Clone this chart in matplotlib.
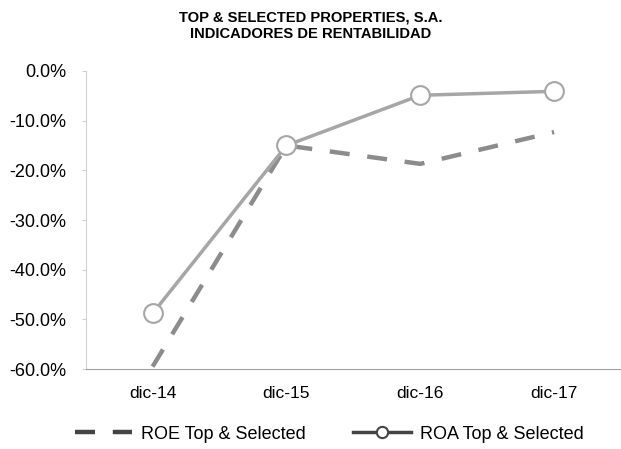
import matplotlib.pyplot as plt
import matplotlib as mpl

mpl.rcParams['font.family'] = ['Liberation Sans', 'DejaVu Sans']

periods = ['dic-14', 'dic-15', 'dic-16', 'dic-17']
roe = [-59.5, -15.0, -18.7, -12.3]
roa = [-48.8, -15.0, -4.9, -4.1]
y_ticks = [0, -10, -20, -30, -40, -50, -60]

fig = plt.figure(figsize=(6.21, 4.49), dpi=100)
ax = fig.add_axes([0.138, 0.178, 0.862, 0.664])

x = range(len(periods))
ax.plot(x, roe, color='#8c8c8c', lw=3.2, dashes=(4.5, 4), label='ROE Top & Selected')
ax.plot(x, roa, color='#a6a6a6', lw=2.5, marker='o', ms=13.5, mfc='white',
        mec='#a6a6a6', mew=1.5, label='ROA Top & Selected')

ax.set_xlim(-0.5, 3.5)
ax.set_ylim(-60, 0)
ax.set_xticks(list(x))
ax.set_xticklabels(periods, fontsize=12.5)
ax.set_yticks(y_ticks)
ax.set_yticklabels(['%.1f%%' % v for v in y_ticks], fontsize=13)
ax.tick_params(axis='x', length=0, pad=12)
ax.tick_params(axis='y', length=3, color='#d0d0d0', pad=11)
ax.spines['top'].set_visible(False)
ax.spines['right'].set_visible(False)
ax.spines['left'].set_color('#d0d0d0')
ax.spines['bottom'].set_color('#a0a0a0')

fig.suptitle('TOP & SELECTED PROPERTIES, S.A.\nINDICADORES DE RENTABILIDAD',
             fontsize=10.6, fontweight='bold', y=0.976, x=0.5, linespacing=1.2)

leg = fig.legend(loc='lower center', bbox_to_anchor=(0.53, -0.022), ncol=2, frameon=False,
                 fontsize=13, handlelength=3.2, markerscale=0.6, columnspacing=2.6,
                 handletextpad=0.5)
# scanned legend keys look darker than the plotted lines
for h in leg.legend_handles:
    h.set_color('#444444')
    h.set_markeredgecolor('#444444')
    h.set_markerfacecolor('white')

fig.savefig('out.png', dpi=100)
